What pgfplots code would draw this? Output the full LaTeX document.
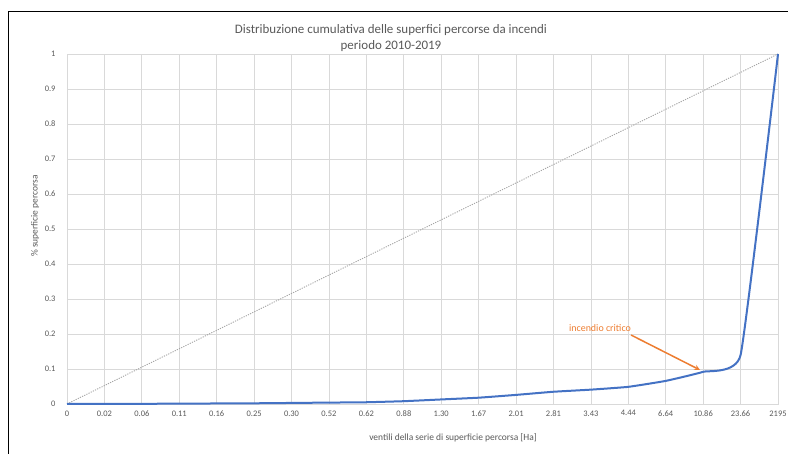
\documentclass[border=0pt]{standalone}
\usepackage{fontspec}
\setmainfont{Carlito}
\usepackage{pgfplots}
\pgfplotsset{compat=1.18}
\definecolor{exblue}{HTML}{4472C4}
\definecolor{exorange}{HTML}{ED7D31}
\definecolor{txtgray}{HTML}{595959}
\definecolor{gridgray}{HTML}{D9D9D9}
\definecolor{diaggray}{HTML}{A5A5A5}
\begin{document}
\begin{tikzpicture}[x=1bp,y=1bp]
\useasboundingbox (0,0) rectangle (788,454);
\draw[black, line width=1bp] (8.5,0) -- (8.5,442.5) -- (788,442.5);
\begin{axis}[
  at={(67bp,50bp)}, anchor=south west,
  scale only axis, width=711bp, height=350bp,
  xmin=0, xmax=19, ymin=0, ymax=1,
  clip=false,
  xtick={0,1,2,3,4,5,6,7,8,9,10,11,12,13,14,15,16,17,18,19},
  xticklabels={0,0.02,0.06,0.11,0.16,0.25,0.30,0.52,0.62,0.88,1.30,1.67,2.01,2.81,3.43,4.44,6.64,10.86,23.66,2195},
  ytick={0,0.1,0.2,0.3,0.4,0.5,0.6,0.7,0.8,0.9,1},
  yticklabels={0,0.1,0.2,0.3,0.4,0.5,0.6,0.7,0.8,0.9,1},
  /pgf/number format/assume math mode=true,
  major tick length=0pt,
  xmajorgrids, ymajorgrids,
  grid style={gridgray, line width=0.75bp},
  axis line style={gridgray, line width=0.75bp},
  tick label style={font=\fontsize{8.5}{10}\selectfont, text=txtgray},
  xticklabel style={anchor=north, yshift=-3bp},
  yticklabel style={anchor=east, xshift=-8bp},
]
\addplot[diaggray, line width=0.9bp, dash pattern=on 1.2bp off 1.2bp] coordinates {(0,0) (19,1)};
\addplot[exblue, line width=2bp, smooth, tension=0.22] coordinates {
(0,0) (1,0.0002) (2,0.0005) (3,0.001) (4,0.0015) (5,0.002) (6,0.003) (7,0.004) (8,0.005) (9,0.008)
(10,0.013) (11,0.018) (12,0.026) (13,0.035) (14,0.041) (15,0.049) (16,0.066) (17,0.092) (18,0.14) (19,1)
};
\end{axis}
\node[text=txtgray, font=\fontsize{13}{15}\selectfont] at (391,424) {Distribuzione cumulativa delle superfici percorse da incendi};
\node[text=txtgray, font=\fontsize{13}{15}\selectfont] at (391,408) {periodo 2010-2019};
\node[text=txtgray, font=\fontsize{9.5}{11}\selectfont] at (453,16) {ventili della serie di superficie percorsa [Ha]};
\node[text=txtgray, font=\fontsize{9.5}{11}\selectfont, rotate=90] at (35,238) {\% superficie percorsa};
\node[text=exorange, font=\fontsize{10}{12}\selectfont] at (600,126) {incendio critico};
\draw[exorange, line width=1.5bp, -stealth] (631,119) -- (700,84);
\end{tikzpicture}
\end{document}
